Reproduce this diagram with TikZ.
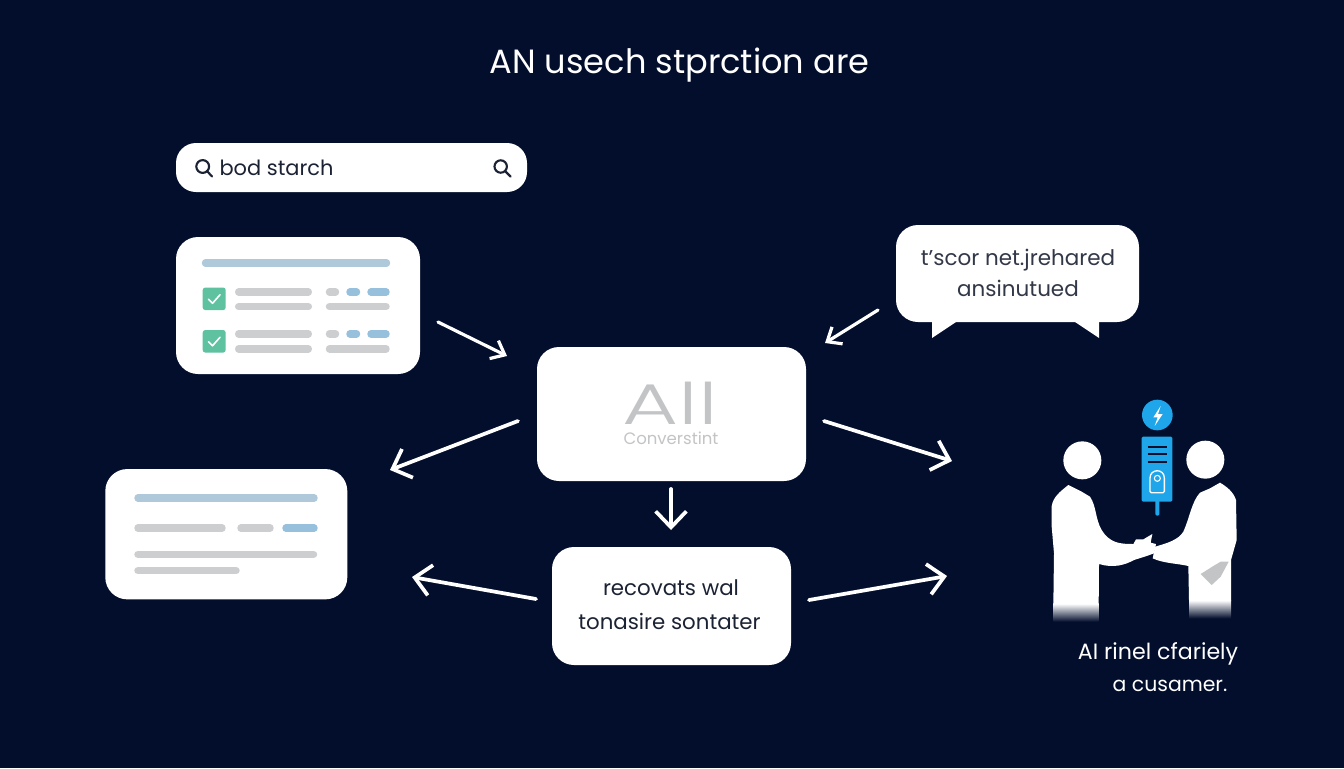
\documentclass[tikz,border=0pt]{standalone}
\usepackage{fontspec}
\setmainfont{Poppins}
\newfontfamily\thinfont{Poppins Light}
\usetikzlibrary{arrows.meta}
\definecolor{bgc}{HTML}{020E2C}
\definecolor{ink}{HTML}{1B2233}
\definecolor{barblue}{HTML}{AFC8DA}
\definecolor{pill}{HTML}{96C0DC}
\definecolor{greyb}{HTML}{CCCECF}
\definecolor{tick}{HTML}{5EC19F}
\definecolor{cyanb}{HTML}{1EA5EA}
\definecolor{softgrey}{HTML}{C2C4C6}
\tikzset{
  card/.style={fill=white,draw=none,rounded corners=16.5pt,inner sep=0pt},
  bar/.style={line width=5.6pt,line cap=round,draw=#1},
  flow/.style={draw=white,line width=2.8pt,line cap=round,-{Straight Barb[length=12pt,width=23pt,line width=2.8pt]}},
  flowsmall/.style={draw=white,line width=2.4pt,line cap=round,-{Straight Barb[length=9pt,width=15pt,line width=2.4pt]}},
  lbl/.style={inner sep=0pt,anchor=base},
  glass/.style={draw=ink,line width=1.6pt},
}
\newcommand{\hb}[4]{\draw[bar=#4] (#1,#3) -- (#2,#3);}
\begin{document}
\begin{tikzpicture}[x=0.75pt,y=-0.75pt]
\fill[bgc] (0,0) rectangle (1344,768);
\useasboundingbox (0,0) rectangle (1344,768);
% title
\node[lbl,text=white,font=\fontsize{25.2pt}{30pt}\selectfont] (title) at (679.5,73) {AN usech stprction are};
% search
\node[card,rounded corners=15pt,minimum width=263.25pt,minimum height=36.75pt] (searchbar) at (351.5,167.5) {};
\draw[glass] (202.7,166.5) circle (6.4);
\draw[glass,line cap=round] (207,171) -- (212,176.5);
\draw[glass] (500.7,166.5) circle (6.2);
\draw[glass,line cap=round] (505,171) -- (510.5,176.5);
\node[lbl,text=ink,font=\fontsize{15.7pt}{20pt}\selectfont] (searchtext) at (276.5,175) {bod starch};
% card 1
\node[card,minimum width=183pt,minimum height=102.75pt] (listcard) at (298,305.5) {};
\hb{205.5}{386.5}{263}{barblue}
\foreach \y in {298.8,341.3}{
  \fill[tick,rounded corners=2pt] (202.7,\y-11.3) rectangle (225.7,\y+11.3);
  \draw[white,line width=1.2pt,line cap=round,line join=round] (208.5,\y+0.5) -- (212.5,\y+4.5) -- (220,\y-4);
}
\foreach \y/\z in {292/306.7,333.8/348.8}{
  \hb{238.7}{308.3}{\y}{greyb}
  \hb{238.7}{308.3}{\z}{greyb}
  \hb{329.5}{335.5}{\y}{greyb}
  \hb{350}{356.5}{\y}{pill}
  \hb{371}{386}{\y}{pill}
  \hb{329.5}{386}{\z}{greyb}
}
% card 2
\node[card,minimum width=181.5pt,minimum height=97.75pt] (outcard) at (226.3,534.2) {};
\hb{138}{314}{498}{barblue}
\hb{138}{222}{528.2}{greyb}
\hb{241}{270}{528.2}{greyb}
\hb{286}{314}{528.2}{pill}
\hb{138}{313.5}{554.3}{greyb}
\hb{138}{236}{570.7}{greyb}
% centre
\node[card,minimum width=201.75pt,minimum height=100.5pt] (centre) at (671.5,414) {};
\node[lbl,text=softgrey,font=\thinfont\fontsize{43pt}{48pt}\selectfont] (ai) at (670,424) {\scalebox{1.5}[1]{All}};
\node[lbl,text=softgrey,font=\fontsize{12.4pt}{14pt}\selectfont] (conv) at (671,444) {Converstint};
% lower box
\node[card,minimum width=179.25pt,minimum height=88.5pt] (lower) at (671.5,606) {};
\node[lbl,text=ink,font=\fontsize{16pt}{20pt}\selectfont] (rec1) at (671,595) {recovats wal};
\node[lbl,text=ink,font=\fontsize{16pt}{20pt}\selectfont] (rec2) at (669.5,629) {tonasire sontater};
% bubble
\node[card,minimum width=182.25pt,minimum height=72.75pt] (bubble) at (1017.5,273.5) {};
\fill[white] (932,318) -- (932,338) -- (956,322) -- cycle;
\fill[white] (1075,322) -- (1099,338) -- (1099,318) -- cycle;
\node[lbl,text=white!10!ink,font=\fontsize{16.1pt}{20pt}\selectfont] (b1) at (1018,265) {t'scor net.jrehared};
\node[lbl,text=white!10!ink,font=\fontsize{16.1pt}{20pt}\selectfont] (b2) at (1018,296) {ansinutued};
% connector ends
\coordinate (a1s) at (438,322); \coordinate (a1e) at (507,356);
\coordinate (a2s) at (878,310); \coordinate (a2e) at (825,343);
\coordinate (a3s) at (518,421); \coordinate (a3e) at (390,470);
\coordinate (a4s) at (824,421); \coordinate (a4e) at (952,461);
\coordinate (a5s) at (671,489); \coordinate (a5e) at (671,530);
\coordinate (a6s) at (536,599); \coordinate (a6e) at (412,577);
\coordinate (a7s) at (809,600); \coordinate (a7e) at (947,576);
\draw[flowsmall] (a1s) -- (a1e);
\draw[flowsmall] (a2s) -- (a2e);
\draw[flow] (a3s) -- (a3e);
\draw[flow] (a4s) -- (a4e);
\draw[flow] (a5s) -- (a5e);
\draw[flow] (a6s) -- (a6e);
\draw[flow] (a7s) -- (a7e);
% people
\begin{scope}[shift={(1000,380)},x=0.25pt,y=-0.25pt]
  \fill[white] (247,241) circle (57);
  \fill[white] (616,239) circle (57);
  % left person
  \fill[white] (205,315) .. controls (180,335) and (160,350) .. (155,378)
     -- (155,440) -- (162,520) -- (160,672) -- (296,672) -- (297,552)
     .. controls (340,565) and (375,555) .. (402,540)
     -- (440,528) -- (462,520) -- (468,492) -- (452,488) -- (457,462) -- (430,478) -- (408,478) -- (400,492)
     .. controls (360,492) and (330,490) .. (305,450)
     .. controls (285,415) and (290,380) .. (270,350) -- (245,335) -- cycle;
  \shade[top color=white,bottom color=bgc] (160,671) rectangle (296,725);
  % right person
  \fill[white] (660,308) -- (630,325) -- (600,338)
     .. controls (575,365) and (570,410) .. (550,455)
     .. controls (535,480) and (500,490) .. (465,500)
     -- (458,535)
     .. controls (490,550) and (530,550) .. (565,558)
     -- (567,662) -- (693,662) -- (693,540) -- (710,480) -- (708,360) .. controls (700,335) and (680,320) .. (660,308) -- cycle;
  \shade[top color=white,bottom color=bgc] (567,661) rectangle (693,715);
  \fill[softgrey] (602,582) -- (640,558) -- (662,545) -- (686,545) -- (662,590) -- (635,615) -- cycle;
  % device
  \fill[cyanb] (472,105) circle (46);
  \fill[white] (482,78) -- (460,112) -- (473,112) -- (464,138) -- (488,102) -- (474,102) -- cycle;
  \fill[cyanb,rounded corners=1pt] (425,170) rectangle (517,365);
  \fill[cyanb,rounded corners=1pt] (466,360) rectangle (478,407);
  \foreach \y in {200,222,245} \draw[bgc,line width=1.7pt] (443,\y) -- (500,\y);
  \draw[white,line width=1pt,rounded corners=1pt] (450,338) -- (450,298) .. controls (450,265) and (493,265) .. (493,298) -- (493,338) -- cycle;
  \draw[white,line width=0.8pt] (472,295) circle (9);
\end{scope}
\node[lbl,text=white,font=\fontsize{16.6pt}{20pt}\selectfont] (cap1) at (1158,659) {AI rinel cfariely};
\node[lbl,text=white,font=\fontsize{15.3pt}{20pt}\selectfont] (cap2) at (1170,691) {a cusamer.};
\end{tikzpicture}
\end{document}
